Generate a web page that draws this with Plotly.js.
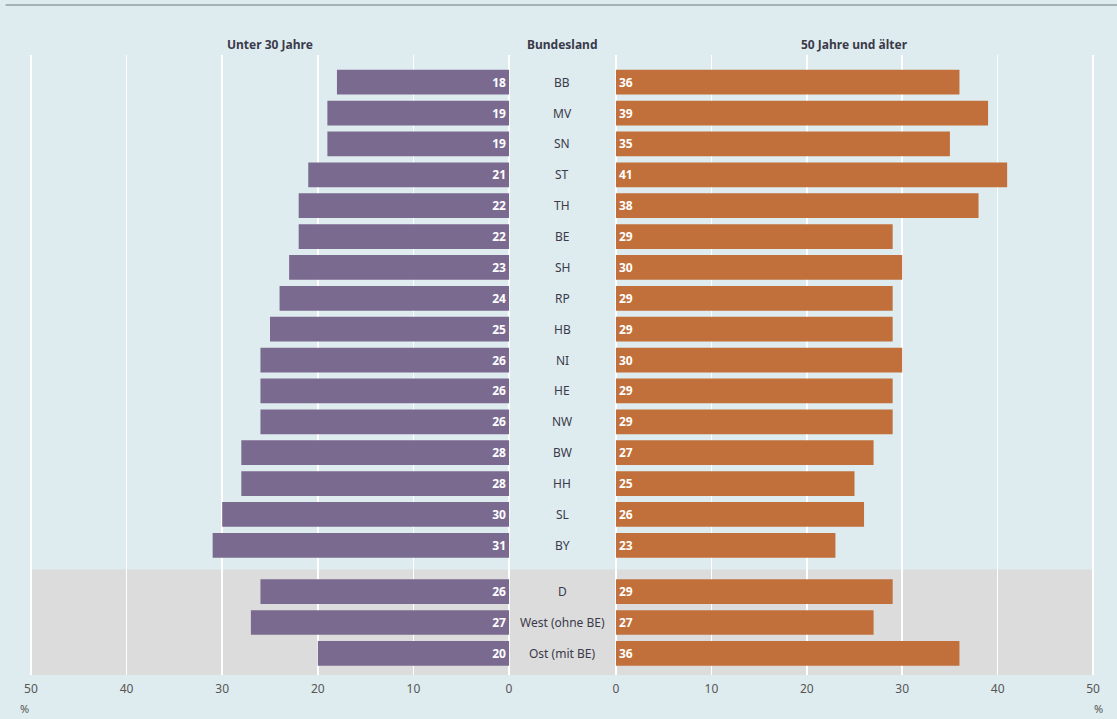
<!DOCTYPE html>
<html>
<head>
<meta charset="utf-8">
<script src="https://cdn.plot.ly/plotly-3.0.1.min.js"></script>
<style>html,body{margin:0;padding:0;background:#dfecef;}#chart{width:1117px;height:719px;}</style>
</head>
<body>
<div id="chart"></div>
<script>
const laender = ["BB","MV","SN","ST","TH","BE","SH","RP","HB","NI","HE","NW","BW","HH","SL","BY","D","West (ohne BE)","Ost (mit BE)"];
const unter30 = [18,19,19,21,22,22,23,24,25,26,26,26,28,28,30,31,26,27,20];
const ab50 = [36,39,35,41,38,29,30,29,29,30,29,29,27,25,26,23,29,27,36];
const rowPos = [0,1,2,3,4,5,6,7,8,9,10,11,12,13,14,15,16.5,17.5,18.5];
const ticks = [0,10,20,30,40,50];

const FONT = "Noto Sans, Open Sans, sans-serif";
const purple = "#7b6a8f";
const orange = "#c2703b";

const traces = [
  {type:"bar", orientation:"h", x:unter30, y:rowPos, xaxis:"x", yaxis:"y",
   marker:{color:purple}, width:0.8, text:unter30.map(String), textposition:"inside",
   insidetextanchor:"start", textfont:{color:"#ffffff", size:12, family:FONT, weight:"bold"},
   hoverinfo:"skip", cliponaxis:false},
  {type:"bar", orientation:"h", x:ab50, y:rowPos, xaxis:"x2", yaxis:"y2",
   marker:{color:orange}, width:0.8, text:ab50.map(String), textposition:"inside",
   insidetextanchor:"start", textfont:{color:"#ffffff", size:12, family:FONT, weight:"bold"},
   hoverinfo:"skip", cliponaxis:false}
];

const yr = [19.2, -0.88];
const annotations = laender.map((l,i)=>({xref:"paper", yref:"y", x:0.5035, y:rowPos[i], text:l,
  showarrow:false, font:{size:12, color:"#3a3a4a", family:FONT}, xanchor:"center", yanchor:"middle"}));
annotations.push(
  {xref:"paper", yref:"paper", x:0.242, y:1.0, yshift:11, xanchor:"center", yanchor:"middle", text:"<b>Unter 30 Jahre</b>", showarrow:false, font:{size:12,color:"#3a3a4a",family:FONT}},
  {xref:"paper", yref:"paper", x:0.5035, y:1.0, yshift:11, xanchor:"center", yanchor:"middle", text:"<b>Bundesland</b>", showarrow:false, font:{size:12,color:"#3a3a4a",family:FONT}},
  {xref:"paper", yref:"paper", x:0.765, y:1.0, yshift:11, xanchor:"center", yanchor:"middle", text:"<b>50 Jahre und älter</b>", showarrow:false, font:{size:12,color:"#3a3a4a",family:FONT}},
  {xref:"paper", yref:"paper", x:0.0215, y:0, yshift:-33, xanchor:"center", yanchor:"middle", text:"%", showarrow:false, font:{size:11,color:"#555555",family:FONT}},
  {xref:"paper", yref:"paper", x:0.983, y:0, yshift:-33, xanchor:"center", yanchor:"middle", text:"%", showarrow:false, font:{size:11,color:"#555555",family:FONT}}
);

const axisCommon = {showgrid:true, gridcolor:"#ffffff", gridwidth:1.5, zeroline:false, tickvals:ticks,
  ticktext:ticks.map(String), tickfont:{size:12, color:"#555555", family:FONT}, showline:false,
  ticklabelstandoff:5, fixedrange:true};

const layout = {
  width:1117, height:719,
  paper_bgcolor:"#dfecef", plot_bgcolor:"rgba(0,0,0,0)",
  margin:{l:0, r:0, t:55, b:44},
  showlegend:false,
  bargap:0.2,
  xaxis:Object.assign({}, axisCommon, {domain:[0.02516,0.4583], range:[50.3,-0.3]}),
  xaxis2:Object.assign({}, axisCommon, {domain:[0.5489,0.9811], range:[-0.3,50.3], anchor:"y2"}),
  yaxis:{range:yr, showticklabels:false, showgrid:false, zeroline:false, fixedrange:true},
  yaxis2:{range:yr, showticklabels:false, showgrid:false, zeroline:false, anchor:"x2", fixedrange:true},
  shapes:[
    {type:"rect", xref:"paper", yref:"y", x0:0.0278, x1:0.9785, y0:15.78, y1:19.2, fillcolor:"#dcdcdc", line:{width:0}, layer:"below"},
    {type:"line", xref:"paper", yref:"paper", x0:0.005, x1:1, y0:1, y1:1, line:{color:"#a7b0b2", width:2}}
  ],
  annotations:annotations
};
layout.shapes[1].y0 = layout.shapes[1].y1 = 1 + 50/620;

Plotly.newPlot("chart", traces, layout, {displayModeBar:false, staticPlot:true});
</script>
</body>
</html>
